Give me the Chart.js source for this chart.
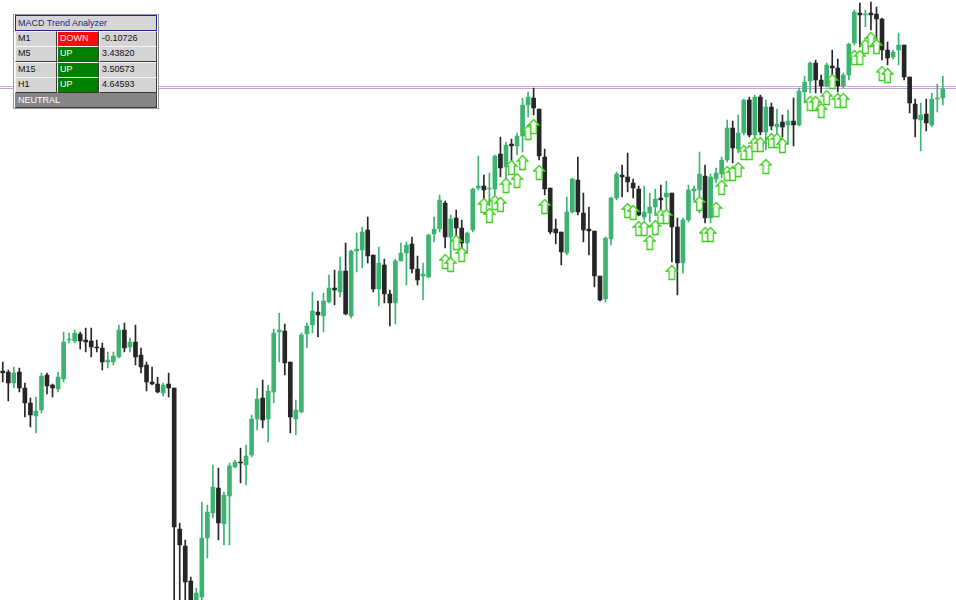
<!DOCTYPE html>
<html>
<head>
<meta charset="utf-8">
<script src="https://cdn.jsdelivr.net/npm/chart.js@4/dist/chart.umd.min.js"></script>
<style>
html,body{margin:0;padding:0;background:#ffffff;}
#wrap{position:relative;width:956px;height:600px;overflow:hidden;background:#fff;}
#c{position:absolute;left:0;top:0;}
.cell{position:absolute;box-sizing:border-box;font-family:"Liberation Sans",Arial,sans-serif;font-size:9px;line-height:13px;padding-left:2px;white-space:nowrap;overflow:hidden;
 border-top:1px solid #f4f4f4;border-left:1px solid #f4f4f4;border-bottom:1px solid #3a3a3a;border-right:1px solid #3a3a3a;}
#frame{position:absolute;left:13px;top:14px;width:146px;height:95px;box-sizing:border-box;background:#fff;border:1px solid #9a9a9a;}
#title{position:absolute;left:15px;top:15px;width:142px;height:16px;box-sizing:border-box;background:#d6d6da;border:1px solid #24248c;color:#1c1c8a;
 font-family:"Liberation Sans",Arial,sans-serif;font-size:9px;line-height:14px;padding-left:2px;}
</style>
</head>
<body>
<div id="wrap">
<canvas id="c"></canvas>
<div id="panel"></div>
</div>
<script>
// ---- candle data (price units) ----
const openP  = [229,228,217,228,212,197,184,190,225,215,211,221,260,259,266,260,259,253,252,238,238,243,270,253,258,245,235,218,216,207,216,212,71,54,19,-2,3,62,87,112,76,104,133,138,135,145,181,202,181,208,268,269,238,181,188,266,275,288,284,298,312,308,329,284,349,350,370,345,311,335,306,297,339,347,356,331,324,323,366,371,397,363,382,372,357,370,412,414,411,411,446,433,456,454,464,495,502,491,443,412,371,368,347,388,420,387,371,369,324,301,361,402,425,423,417,411,383,387,393,402,403,407,373,337,380,409,410,424,382,421,426,440,472,451,467,500,465,503,468,493,473,478,475,479,475,508,519,537,520,514,534,532,514,525,557,587,585,587,586,581,550,543,550,555,523,496,480,486,475,501,502];
const highP  = [238,230,233,232,217,202,203,227,227,216,228,268,267,270,268,272,272,260,257,248,248,275,277,262,275,252,238,233,223,217,227,212,77,60,23,12,98,95,135,132,108,137,140,152,155,185,212,220,215,271,287,276,238,200,267,277,308,299,307,325,330,343,357,350,367,373,383,345,353,341,310,341,357,358,363,344,337,366,383,405,399,385,390,380,368,412,444,425,427,445,463,458,461,467,502,508,512,491,451,412,381,368,403,422,443,407,393,369,324,363,403,428,435,447,421,414,414,407,411,415,419,407,382,382,415,414,448,435,426,432,443,480,479,485,501,503,505,505,500,497,491,485,490,502,512,524,538,540,525,537,550,541,527,557,590,597,590,598,593,582,558,550,567,555,523,501,497,501,507,516,524];
const lowP   = [218,199,212,208,183,173,167,187,206,203,208,218,257,257,251,248,243,248,230,232,235,242,248,248,235,227,209,215,207,204,203,-5,-5,-5,-6,-6,0,42,82,60,55,55,132,117,115,143,170,172,158,197,238,225,167,165,187,252,267,263,268,297,295,303,285,282,328,332,337,308,294,297,274,276,339,315,327,315,300,322,358,368,352,340,352,343,347,368,410,398,394,405,423,420,437,445,448,483,485,440,405,366,356,335,345,387,385,358,345,313,299,298,355,400,403,408,402,384,380,378,385,385,385,338,305,327,378,399,387,377,377,417,422,438,437,447,465,463,462,465,450,470,460,463,456,454,474,497,507,507,507,513,524,508,512,520,555,553,573,570,555,540,535,541,535,520,487,463,449,469,473,488,495];
const closeP = [227,217,227,212,197,185,189,224,214,212,223,258,261,267,259,258,253,252,238,240,244,270,252,258,243,233,218,216,208,215,212,73,55,18,0,7,62,88,113,77,105,134,138,137,144,181,201,180,209,267,270,237,183,190,265,274,289,285,299,312,310,329,286,349,351,368,344,311,337,306,297,339,347,355,331,320,326,365,371,400,363,381,372,357,367,411,414,410,412,444,432,455,454,464,495,503,492,444,411,368,367,348,388,421,388,370,369,324,300,362,402,426,423,418,412,385,388,393,401,400,407,373,337,380,410,411,426,382,423,427,440,472,452,467,500,465,503,468,493,474,476,473,479,475,509,518,537,520,514,535,532,514,525,556,588,585,586,585,581,550,542,548,555,523,497,481,485,477,501,502,511];
const barLabels = openP.map((_, i) => String(i));

// ---- buy-signal arrows (bar index, price level) ----
const arrowBars   = [80,81,82,83,87,88,89,90,91,92,93,94,95,96,97,98,113,114,115,116,117,118,119,120,121,126,127,128,129,130,131,132,133,134,135,136,137,138,139,140,141,146,147,148,149,150,151,152,154,155,156,157,158,159,160];
const arrowLevels = [338.5,335.5,357.5,345.5,394.5,384.5,397.5,395.5,414.5,432.5,419.5,437.5,467.5,473.5,427.5,393.5,389.5,387.5,371.5,371.5,357.5,372.5,383.5,383.5,327.5,396.5,365.5,365.5,390.5,412.5,426.5,426.5,430.5,447.5,447.5,455.5,455.5,433.5,459.5,459.5,454.5,496.5,496.5,489.5,502.5,518.5,499.5,499.5,542.5,542.5,553.5,560.5,553.5,526.5,524.5];

// ---- horizontal price levels ----
const levelPink = 513.5;
const levelLavender = 511.5;

// ---- indicator panel texts ----
const tfNames  = ['M1','M5','M15','H1'];
const tfStates = ['DOWN','UP','UP','UP'];
const tfValues = ['-0.10726','3.43820','3.50573','4.64593'];
const panelTitle = 'MACD Trend Analyzer';
const panelSummary = 'NEUTRAL';

const UP_COL = '#3cb371';
const DN_COL = '#262626';
const candleCols = openP.map((o, i) => closeP[i] >= o ? UP_COL : DN_COL);

// arrow image
function makeArrow() {
  const cv = document.createElement('canvas');
  cv.width = 13; cv.height = 17;
  const g = cv.getContext('2d');
  g.beginPath();
  g.moveTo(6.5, 1.5);
  g.lineTo(11.8, 7);
  g.lineTo(9.3, 7);
  g.lineTo(9.3, 15.5);
  g.lineTo(3.7, 15.5);
  g.lineTo(3.7, 7);
  g.lineTo(1.2, 7);
  g.closePath();
  g.fillStyle = '#ffffff';
  g.fill();
  g.strokeStyle = '#3ccf1e';
  g.lineWidth = 1.3;
  g.stroke();
  return cv;
}
const arrowImg = makeArrow();

const levelsPlugin = {
  id: 'levels',
  beforeDatasetsDraw(chart) {
    const ctx = chart.ctx, y = chart.scales.y;
    ctx.save();
    ctx.lineWidth = 1;
    [[levelPink, '#dc9ed4'], [levelLavender, '#b8a8e2']].forEach(([v, col]) => {
      const py = y.getPixelForValue(v);
      ctx.strokeStyle = col;
      ctx.beginPath();
      ctx.moveTo(0, py);
      ctx.lineTo(chart.width, py);
      ctx.stroke();
    });
    ctx.restore();
  }
};

const canvas = document.getElementById('c');
canvas.width = 956; canvas.height = 600;
canvas.style.width = '956px'; canvas.style.height = '600px';

new Chart(canvas, {
  type: 'bar',
  data: {
    labels: barLabels,
    datasets: [
      { label: 'wick', data: lowP.map((l, i) => [l, highP[i]]), backgroundColor: candleCols,
        barThickness: 1, grouped: false, order: 3, borderWidth: 0 },
      { label: 'body', data: openP.map((o, i) => [o, closeP[i]]), backgroundColor: candleCols,
        barThickness: 4, grouped: false, order: 2, borderWidth: 0 },
      { type: 'line', label: 'signal', data: arrowBars.map((b, k) => ({ x: String(b), y: arrowLevels[k] })),
        showLine: false, pointStyle: arrowImg, pointRadius: 8, order: 1, clip: false }
    ]
  },
  options: {
    responsive: false,
    animation: false,
    events: [],
    layout: { autoPadding: false, padding: { left: 0, right: 10.4, top: 0, bottom: 0 } },
    plugins: { legend: { display: false }, tooltip: { enabled: false } },
    scales: {
      x: { type: 'category', display: false, offset: true },
      y: { display: false, min: 0, max: 600 }
    }
  },
  plugins: [levelsPlugin]
});

// ---- panel (HTML overlay) ----
const panel = document.getElementById('panel');
function addDiv(id, cls, css, text) {
  const d = document.createElement('div');
  if (id) d.id = id;
  if (cls) d.className = cls;
  Object.assign(d.style, css || {});
  if (text !== undefined) d.textContent = text;
  panel.appendChild(d);
  return d;
}
addDiv('frame');
addDiv('title', null, {}, panelTitle);
const rowTops = [31, 46, 62, 77];
tfNames.forEach((n, k) => {
  const t = rowTops[k] + 'px';
  addDiv(null, 'cell', { left: '15px', top: t, width: '42px', height: '16px', background: '#d4d4d4', color: '#111' }, n);
  const down = tfStates[k] === 'DOWN';
  addDiv(null, 'cell', { left: '57px', top: t, width: '42px', height: '16px', background: down ? '#ff0a0a' : '#008000', color: down ? '#ffe6e6' : '#ffffff' }, tfStates[k]);
  addDiv(null, 'cell', { left: '99px', top: t, width: '58px', height: '16px', background: '#d4d4d4', color: '#111' }, tfValues[k]);
});
addDiv(null, 'cell', { left: '15px', top: '93px', width: '142px', height: '15px', background: '#858585', color: '#ffffff', borderTop: '1px solid #858585', borderLeft: '1px solid #858585' }, panelSummary);
</script>
</body>
</html>
